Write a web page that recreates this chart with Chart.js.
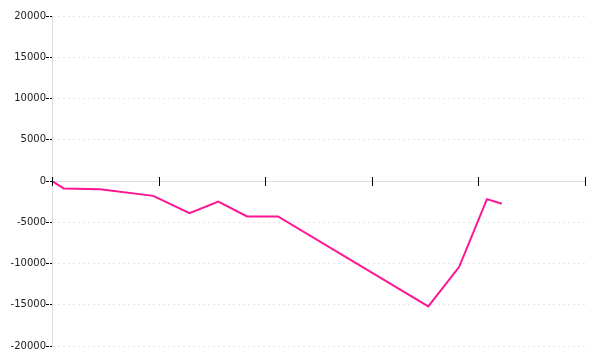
<!DOCTYPE html>
<html>
<head>
<meta charset="utf-8">
<script src="https://cdn.jsdelivr.net/npm/chart.js@4.4.0/dist/chart.umd.min.js"></script>
<style>
  html, body { margin: 0; padding: 0; background: #fff; }
  #wrap { width: 600px; height: 360px; }
</style>
</head>
<body>
<div id="wrap"><canvas id="chart"></canvas></div>
<script>
// positions along the x axis (in tick units) and values
const xPos = [0, 0.11, 0.45, 0.95, 1.29, 1.56, 1.83, 2.12, 3.53, 3.82, 4.08, 4.22];
const values = [0, -900, -1000, -1800, -3900, -2500, -4300, -4300, -15200, -10400, -2200, -2750];
const xTicks = [0, 1, 2, 3, 4, 5];
const yTicks = [-20000, -15000, -10000, -5000, 0, 5000, 10000, 15000, 20000];

// x tick marks cross the zero line, above and below
const crossTicks = {
    id: 'crossTicks',
    afterDraw(chart) {
        const ctx = chart.ctx;
        const x = chart.scales.x;
        const y0 = Math.round(chart.scales.y.getPixelForValue(0));
        ctx.save();
        ctx.strokeStyle = '#000';
        ctx.lineWidth = 1;
        xTicks.forEach(t => {
            const px = Math.round(x.getPixelForValue(t)) + 0.5;
            ctx.beginPath();
            ctx.moveTo(px, y0 - 4);
            ctx.lineTo(px, y0 + 5);
            ctx.stroke();
        });
        ctx.restore();
    }
};

chartIt();

function chartIt() {
    const ctx = document.getElementById('chart').getContext('2d');
    const points = xPos.map((x, i) => ({x: x, y: values[i]}));
    new Chart(ctx, {
        type: 'line',
        data: {
            datasets: [{
                data: points,
                borderColor: '#ff1493',
                borderWidth: 2,
                pointRadius: 0,
                fill: false,
                tension: 0
            }]
        },
        options: {
            responsive: true,
            maintainAspectRatio: false,
            animation: false,
            layout: {padding: {top: 16, bottom: 14, right: 15, left: 0}},
            plugins: {legend: {display: false}, tooltip: {enabled: false}},
            scales: {
                x: {
                    type: 'linear',
                    position: {y: 0},
                    min: 0,
                    max: 5,
                    afterBuildTicks: s => { s.ticks = xTicks.map(v => ({value: v})); },
                    ticks: {display: false},
                    grid: {display: false},
                    border: {color: '#ddd', width: 1}
                },
                y: {
                    min: -20000,
                    max: 20000,
                    afterBuildTicks: s => { s.ticks = yTicks.map(v => ({value: v})); },
                    afterFit: s => { s.width = 52; },
                    ticks: {
                        color: '#222',
                        padding: 0,
                        font: {family: 'DejaVu Sans', size: 10},
                        callback: v => String(v)
                    },
                    grid: {
                        color: '#e6e6e6',
                        tickColor: '#000',
                        tickLength: 6,
                        tickBorderDash: [3, 1]
                    },
                    border: {color: '#ddd', dash: [2, 3]}
                }
            }
        },
        plugins: [crossTicks]
    });
}
</script>
</body>
</html>
